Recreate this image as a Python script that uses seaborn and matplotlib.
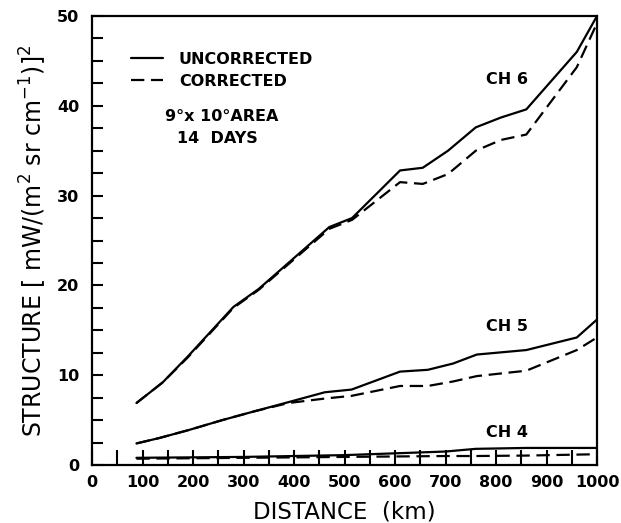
import numpy as np
import pandas as pd
import matplotlib
matplotlib.use("Agg")
import matplotlib.pyplot as plt
from matplotlib.lines import Line2D
from matplotlib.ticker import MultipleLocator
import seaborn as sns

# ---- data ----
ch6_dist = [88, 140, 190, 280, 330, 470, 515, 610, 655, 705, 760, 810, 860, 960, 1000]
ch6_uncorrected = [6.9, 9.2, 12.1, 17.6, 19.6, 26.5, 27.5, 32.8, 33.1, 35.0, 37.6, 38.7, 39.6, 46.0, 50.0]
ch6_corrected = [6.9, 9.2, 12.0, 17.5, 19.5, 26.3, 27.3, 31.5, 31.3, 32.4, 35.0, 36.2, 36.8, 44.3, 49.2]

ch5_dist = [88, 133, 192, 258, 323, 389, 461, 514, 610, 665, 715, 762, 860, 960, 1000]
ch5_uncorrected = [2.4, 3.0, 3.9, 5.0, 6.0, 7.0, 8.1, 8.4, 10.4, 10.6, 11.3, 12.3, 12.8, 14.2, 16.2]
ch5_corrected = [2.4, 3.0, 3.9, 5.0, 6.0, 6.9, 7.4, 7.7, 8.8, 8.8, 9.3, 9.9, 10.5, 12.8, 14.2]

ch4_dist = [88, 300, 500, 600, 700, 760, 860, 1000]
ch4_uncorrected = [0.8, 0.9, 1.1, 1.3, 1.5, 1.8, 1.9, 1.9]
ch4_corrected = [0.7, 0.8, 0.9, 0.95, 1.0, 1.0, 1.05, 1.2]

channel_labels = ["CH 6", "CH 5", "CH 4"]
label_pos_x = [822, 822, 822]
label_pos_y = [42.9, 15.4, 3.6]

x_ticks = list(range(0, 1001, 100))
y_ticks = list(range(0, 51, 10))

rows = []
for ch, d, u, c in [("CH 6", ch6_dist, ch6_uncorrected, ch6_corrected),
                    ("CH 5", ch5_dist, ch5_uncorrected, ch5_corrected),
                    ("CH 4", ch4_dist, ch4_uncorrected, ch4_corrected)]:
    for xi, yi in zip(d, u):
        rows.append(dict(channel=ch, kind="UNCORRECTED", distance=xi, value=yi))
    for xi, yi in zip(d, c):
        rows.append(dict(channel=ch, kind="CORRECTED", distance=xi, value=yi))
df = pd.DataFrame(rows)

sns.set_theme(style="white")
plt.rcParams["font.family"] = ["DejaVu Sans"]
plt.rcParams["text.color"] = "black"
plt.rcParams["axes.labelcolor"] = "black"
plt.rcParams["xtick.color"] = "black"
plt.rcParams["ytick.color"] = "black"

fig = plt.figure(figsize=(6.21, 5.23), dpi=100)
ax = fig.add_axes([92 / 621, 1 - 465 / 523, 505 / 621, 449 / 523])

for (ch, kind), sub in df.groupby(["channel", "kind"]):
    sns.lineplot(data=sub, x="distance", y="value", ax=ax, color="black",
                 linewidth=1.6, estimator=None, sort=False, legend=False,
                 linestyle="-" if kind == "UNCORRECTED" else (0, (6, 3)))

ax.set_xlim(0, 1000)
ax.set_ylim(0, 50)
ax.set_xticks(x_ticks)
ax.set_yticks(y_ticks)
ax.xaxis.set_minor_locator(MultipleLocator(50))
ax.yaxis.set_minor_locator(MultipleLocator(2.5))
ax.tick_params(axis="both", which="both", direction="in", colors="black", width=1.5,
               bottom=True, left=True, top=False, right=False)
ax.tick_params(axis="x", which="both", length=11, pad=7)
ax.tick_params(axis="y", which="both", length=8, pad=9)
for lab in ax.get_xticklabels() + ax.get_yticklabels():
    lab.set_fontsize(11.5)
    lab.set_fontweight("bold")

for s in ax.spines.values():
    s.set_color("black")
    s.set_linewidth(1.6)

ax.set_xlabel("DISTANCE  (km)", fontsize=16.5, labelpad=8)
ax.set_ylabel(r"STRUCTURE [ mW/(m$^2$ sr cm$^{-1}$)]$^2$", fontsize=17, labelpad=6)

for lab, lx, ly in zip(channel_labels, label_pos_x, label_pos_y):
    ax.text(lx, ly, lab, ha="center", va="center", fontsize=11.5, fontweight="bold")

handles = [Line2D([], [], color="black", lw=1.6, linestyle="-"),
           Line2D([], [], color="black", lw=1.6, linestyle=(0, (6, 3)))]
leg = ax.legend(handles, ["UNCORRECTED", "CORRECTED"], loc="upper left",
                bbox_to_anchor=(0.055, 0.945), frameon=False, handlelength=2.0,
                handletextpad=1.0, labelspacing=0.45, borderaxespad=0.3,
                prop=dict(size=11.5, weight="bold"))

ax.text(257, 38.8, "9°x 10°AREA", ha="center", va="center", fontsize=11.5, fontweight="bold")
ax.text(248, 36.4, "14  DAYS", ha="center", va="center", fontsize=11.5, fontweight="bold")

fig.savefig("out.png", dpi=100)
